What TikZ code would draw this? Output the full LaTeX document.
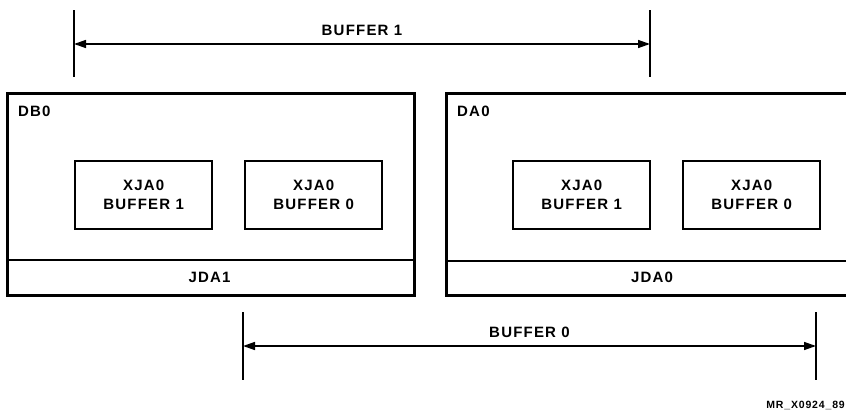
\documentclass[tikz,border=0pt]{standalone}
\usepackage{fontspec}
\setmainfont{Liberation Sans}[LetterSpace=8]
\usetikzlibrary{arrows.meta}
\begin{document}
\begin{tikzpicture}[x=1pt,y=-1pt,
  lbl/.style={font=\fontsize{15}{19}\selectfont\bfseries,inner sep=0pt},
  outer/.style={draw,line width=2.5pt,inner sep=0pt,anchor=north west,minimum width=#1,minimum height=202pt},
  inner/.style={draw,line width=2.3pt,inner sep=0pt,anchor=north west,minimum width=137pt,minimum height=68pt,align=center,font=\fontsize{15}{19}\selectfont\bfseries},
  tick/.style={line width=1.5pt},
  dim/.style={line width=1.5pt,{Triangle[length=12pt,width=8pt]}-{Triangle[length=12pt,width=8pt]}}
]
\useasboundingbox (0,0) rectangle (846,415);
\clip (0,0) rectangle (846,415);
% top dimension
\coordinate (t1a) at (74,10);  \coordinate (t1b) at (74,77);
\coordinate (t2a) at (650,10); \coordinate (t2b) at (650,77);
\draw[tick] (t1a) -- (t1b);
\draw[tick] (t2a) -- (t2b);
\coordinate (d1a) at (74,44); \coordinate (d1b) at (650,44);
\draw[dim] (d1a) -- node[lbl,above=8pt] (buf1) {BUFFER 1} (d1b);
% left unit
\node[outer=407pt] (DB) at (6,92) {};
\node[lbl,anchor=base west] (DBl) at (18,116) {DB0};
\coordinate (DBd1) at (6,260); \coordinate (DBd2) at (413,260);
\draw[line width=1.8pt] (DBd1) -- (DBd2);
\node[lbl] (JDA1) at (209.5,277) {JDA1};
\node[inner] (L1) at (74,160) {XJA0\\BUFFER 1};
\node[inner] (L0) at (244,160) {XJA0\\BUFFER 0};
% right unit
\node[outer=410pt] (DA) at (445,92) {};
\node[lbl,anchor=base west] (DAl) at (457,116) {DA0};
\coordinate (DAd1) at (445,261); \coordinate (DAd2) at (855,261);
\draw[line width=1.8pt] (DAd1) -- (DAd2);
\node[lbl] (JDA0) at (652,277) {JDA0};
\node[inner] (R1) at (512,160) {XJA0\\BUFFER 1};
\node[inner] (R0) at (682,160) {XJA0\\BUFFER 0};
% bottom dimension
\coordinate (t3a) at (243,312); \coordinate (t3b) at (243,380);
\coordinate (t4a) at (816,312); \coordinate (t4b) at (816,380);
\draw[tick] (t3a) -- (t3b);
\draw[tick] (t4a) -- (t4b);
\coordinate (d2a) at (243,346); \coordinate (d2b) at (816,346);
\draw[dim] (d2a) -- node[lbl,above=8pt] (buf0) {BUFFER 0} (d2b);
% figure id
\node[font=\fontsize{10.5}{11}\selectfont\bfseries\addfontfeature{LetterSpace=8},inner sep=0pt,anchor=east] (mr) at (845,405) {MR\_X0924\_89};
\end{tikzpicture}
\end{document}
